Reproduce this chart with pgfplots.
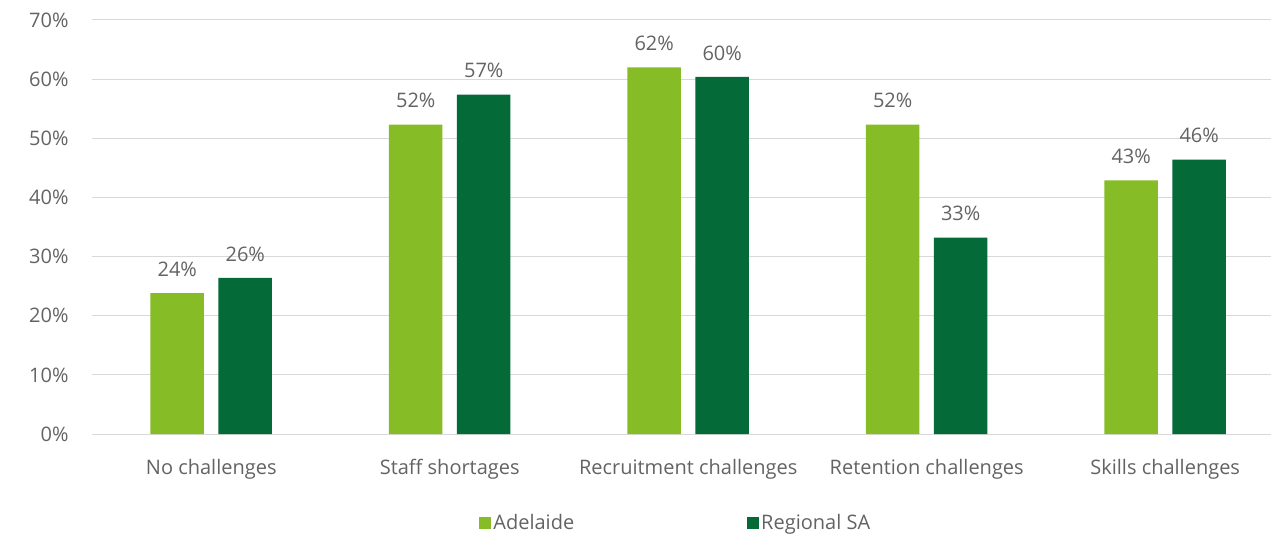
\documentclass[border=0pt]{standalone}
\usepackage{fontspec}
\setmainfont{Open Sans}
\usepackage{pgfplots}
\pgfplotsset{compat=1.18}
\definecolor{lg}{HTML}{86BC25}
\definecolor{dg}{HTML}{046A38}
\definecolor{txt}{HTML}{636363}
\definecolor{gridc}{HTML}{D9D9D9}
\begin{document}
\begin{tikzpicture}[font=\fontsize{20bp}{24bp}\selectfont]
\begin{axis}[
  at={(0,0)}, anchor=south west,
  scale only axis, width=1192.5bp, height=414bp,
  xmin=-0.5, xmax=4.5, ymin=0, ymax=70,
  ybar=14.5bp, bar width=53.5bp,
  ytick={0,10,...,70},
  yticklabel={\pgfmathprintnumber{\tick}\%},
  /pgf/number format/assume math mode=true,
  xtick={0,1,2,3,4},
  xticklabels={No challenges, Staff shortages, Recruitment challenges, Retention challenges, Skills challenges},
  axis x line*=bottom, axis y line*=left,
  x axis line style={draw=gridc, line width=1bp, -},
  y axis line style={draw=none},
  major tick length=0pt,
  ymajorgrids, grid style={draw=gridc, line width=1bp},
  ticklabel style={text=txt},
  y tick label style={xshift=-20bp},
  x tick label style={yshift=-22bp},
  nodes near coords={\pgfmathprintnumber[fixed,precision=0]{\pgfplotspointmeta}\%},
  every node near coord/.append style={text=txt, yshift=13bp, /pgf/number format/assume math mode=true},
  legend style={at={(axis description cs:0.4896,-0.215)}, anchor=center, draw=none, fill=none, text=txt,
    /tikz/every even column/.append style={column sep=171bp}},
  legend columns=2,
  legend image code/.code={\fill[#1] (0bp,-6bp) rectangle (12bp,6bp);},
]
\addplot[fill=lg, draw=none] coordinates {(0,23.8) (1,52.3) (2,62.0) (3,52.3) (4,42.9)};
\addplot[fill=dg, draw=none] coordinates {(0,26.4) (1,57.4) (2,60.4) (3,33.2) (4,46.4)};
\legend{Adelaide, Regional SA}
\end{axis}
\pgfresetboundingbox
\useasboundingbox (-92bp,-104bp) rectangle (1179bp,434bp);
\end{tikzpicture}
\end{document}
